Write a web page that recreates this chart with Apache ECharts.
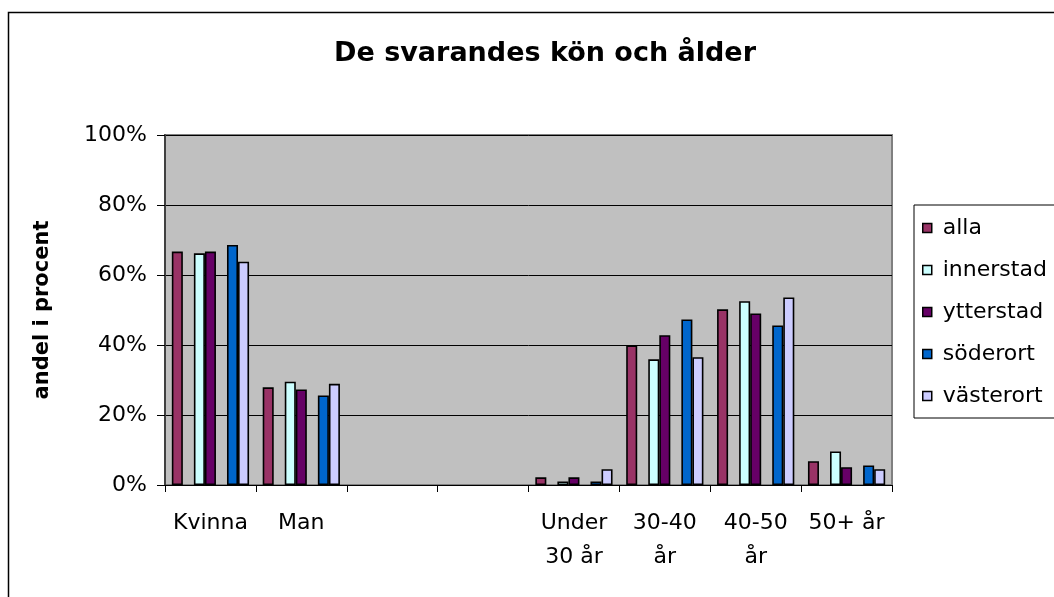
<!DOCTYPE html>
<html>
<head>
<meta charset="utf-8">
<title>De svarandes kön och ålder</title>
<script src="https://cdn.jsdelivr.net/npm/echarts@6/dist/echarts.min.js"></script>
<style>
  html, body { margin: 0; padding: 0; background: #fff; }
  #chart { width: 1054px; height: 597px; }
</style>
</head>
<body>
<div id="chart"></div>
<script>
// kategorier (två tomma platser mellan kön och ålder)
const categories = ['Kvinna', 'Man', '', '', 'Under\n30 år', '30-40\når', '40-50\når', '50+ år']
const yTicks = [0, 20, 40, 60, 80, 100]

// andel i procent per serie
const alla      = [66.7, 27.9, null, null, 2.2, 39.9, 50.2, 6.8]
const innerstad = [66.2, 29.5, null, null, 1.0, 35.9, 52.5, 9.6]
const ytterstad = [66.7, 27.3, null, null, 2.2, 42.8, 49.0, 5.1]
const soderort  = [68.6, 25.6, null, null, 1.0, 47.3, 45.6, 5.6]
const vasterort = [63.8, 28.9, null, null, 4.5, 36.5, 53.6, 4.5]
const empty     = categories.map(() => null)

const font = 'DejaVu Sans'

const bar = (name, data, color) => ({
  name: name,
  type: 'bar',
  data: data,
  barGap: '0%',
  barCategoryGap: '15%',
  silent: true,
  itemStyle: { color: color, borderColor: '#000', borderWidth: 1.6 },
})

const myChart = echarts.init(document.getElementById('chart'))

const options = {
  animation: false,
  backgroundColor: '#fff',
  title: {
    text: 'De svarandes kön och ålder',
    left: 540,
    top: 35,
    textAlign: 'center',
    textStyle: { fontFamily: font, fontSize: 27, fontWeight: 'bold', color: '#000' },
  },
  graphic: [
    {
      type: 'rect',
      shape: { x: 8.5, y: 12.5, width: 1100, height: 700 },
      style: { fill: 'none', stroke: '#000', lineWidth: 1.5 },
      silent: true,
      z: -1,
    },
  ],
  legend: {
    orient: 'vertical',
    left: 914,
    top: 205,
    padding: [12, 8, 11, 8],
    itemGap: 20,
    itemWidth: 9,
    itemHeight: 9,
    icon: 'rect',
    borderColor: '#000',
    borderWidth: 1,
    backgroundColor: '#fff',
    data: ['alla', 'innerstad', 'ytterstad', 'söderort', 'västerort'],
    itemStyle: { borderColor: '#000', borderWidth: 1.5 },
    textStyle: { fontFamily: font, fontSize: 22, color: '#000', padding: [0, 0, 0, 6] },
    selectedMode: false,
  },
  grid: {
    left: 165,
    right: 162,
    top: 135,
    bottom: 112,
    show: true,
    backgroundColor: '#c0c0c0',
    borderColor: '#808080',
    borderWidth: 2,
  },
  xAxis: {
    type: 'category',
    data: categories,
    axisLine: { lineStyle: { color: '#000', width: 1 } },
    axisTick: { show: true, length: 7, lineStyle: { color: '#000' } },
    axisLabel: {
      interval: 0,
      margin: 21,
      fontFamily: font,
      fontSize: 22,
      lineHeight: 34,
      color: '#000',
    },
  },
  yAxis: {
    type: 'value',
    min: yTicks[0],
    max: yTicks[yTicks.length - 1],
    interval: 20,
    name: 'andel i procent',
    nameLocation: 'middle',
    nameRotate: 90,
    nameGap: 112,
    nameTextStyle: { fontFamily: font, fontSize: 21, fontWeight: 'bold', color: '#000' },
    axisLine: { show: true, lineStyle: { color: '#404040', width: 2 } },
    axisTick: { show: true, length: 8, lineStyle: { color: '#000' } },
    axisLabel: {
      margin: 18,
      fontFamily: font,
      fontSize: 22,
      color: '#000',
      formatter: '{value}%',
    },
    splitLine: { lineStyle: { color: '#000', width: 1 } },
  },
  series: [
    bar('alla', alla, '#993366'),
    bar('tom1', empty, 'none'),
    bar('innerstad', innerstad, '#ccffff'),
    bar('ytterstad', ytterstad, '#660066'),
    bar('tom2', empty, 'none'),
    bar('söderort', soderort, '#0066cc'),
    bar('västerort', vasterort, '#ccccff'),
  ],
}

myChart.setOption(options)
</script>
</body>
</html>
